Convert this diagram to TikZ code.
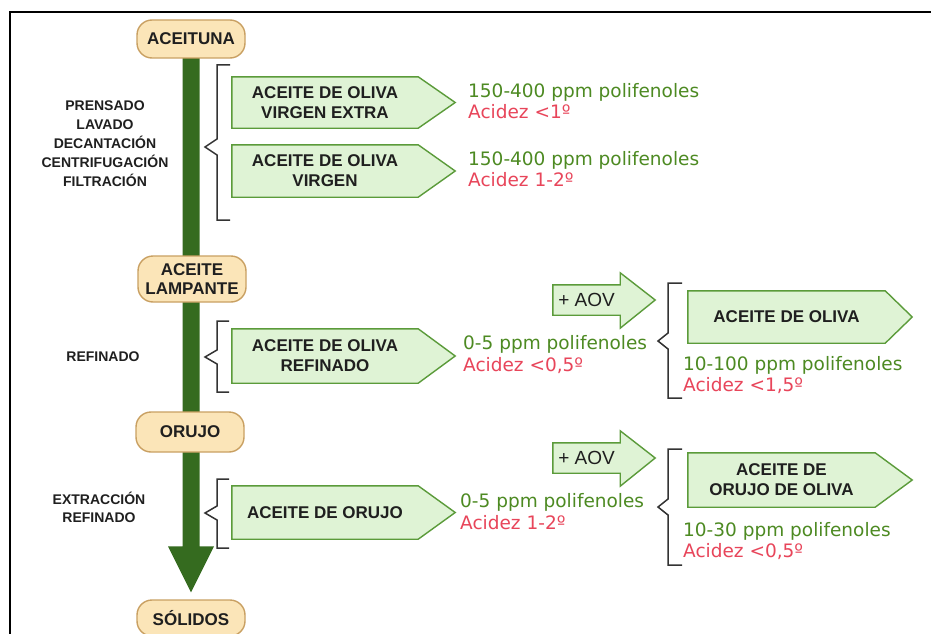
\documentclass[tikz,border=0pt]{standalone}
\usepackage{fontspec}
\setmainfont{Liberation Sans}
\newfontfamily\dvs{DejaVu Sans}
\usetikzlibrary{calc}
\pgfdeclarelayer{bg}
\pgfsetlayers{bg,main}
\definecolor{pillfill}{HTML}{FBE5B8}
\definecolor{pillborder}{HTML}{C9A062}
\definecolor{boxfill}{HTML}{DFF3D5}
\definecolor{boxborder}{HTML}{5B9B3A}
\definecolor{shaft}{HTML}{356B1F}
\definecolor{tgreen}{HTML}{4D8A22}
\definecolor{tred}{HTML}{E8455A}
\definecolor{txt}{HTML}{1F1F1F}
\definecolor{brk}{HTML}{333333}
\tikzset{
  pill/.style={draw=pillborder, fill=pillfill, line width=1.4pt, rounded corners=15pt,
    minimum width=108pt, inner sep=0pt, align=center, text=txt,
    font=\bfseries\fontsize{17}{19}\selectfont},
  boxtxt/.style={inner sep=0pt, align=center, text=txt,
    font=\bfseries\fontsize{17}{20}\selectfont},
  boxshape/.style={draw=boxborder, fill=boxfill, line width=1.4pt, line join=miter},
  proc/.style={inner sep=0pt, align=center, text=txt,
    font=\bfseries\fontsize{14}{19}\selectfont},
  info/.style={inner sep=0pt, anchor=west, align=left,
    font=\dvs\fontsize{18.5}{21.5}\selectfont},
  brace/.style={draw=brk, line width=1.5pt, line join=miter},
  aov/.style={inner sep=0pt, text=txt, font=\fontsize{19}{20}\selectfont,
    minimum width=67pt, minimum height=30pt}
}
\newcommand{\olivebox}[7]{%
  \node[boxtxt, minimum width=#4pt, minimum height=#5pt] (#1) at (#2,#3) {#7};
  \begin{pgfonlayer}{bg}
  \draw[boxshape] (#1.north west) -- (#1.north east) -- ($(#1.east)+(#6,0)$)
    -- (#1.south east) -- (#1.south west) -- cycle;
  \end{pgfonlayer}}
\newcommand{\aovarrow}[3]{%
  \node[aov] (#1) at (#2,#3) {+ AOV};
  \begin{pgfonlayer}{bg}
  \draw[boxshape] (#1.north west) -- (#1.north east) -- ($(#1.north east)+(0,-12)$)
    -- ($(#1.east)+(35,0)$) -- ($(#1.south east)+(0,13)$) -- (#1.south east)
    -- (#1.south west) -- cycle;
  \end{pgfonlayer}}
\begin{document}
\begin{tikzpicture}[x=1pt,y=-1pt]
\useasboundingbox (0,0) rectangle (931,634);
\begin{pgfonlayer}{bg}
\fill[white] (0,0) rectangle (931,634);
\end{pgfonlayer}
% frame
\draw[line width=2.5pt] (10,634) -- (10,12) -- (931,12);

% pills
\node[pill, minimum height=38pt] (p1) at (191,39) {ACEITUNA};
\node[pill, minimum height=46pt] (p2) at (192,279) {ACEITE\\LAMPANTE};
\node[pill, minimum height=40pt] (p3) at (190,432) {ORUJO};
\node[pill, minimum height=36pt] (p4) at (191,618) {SÓLIDOS};

% main shaft
\begin{pgfonlayer}{bg}
\fill[shaft] ($(p1.center)+(-8.5,0)$) -- ($(p1.center)+(8.5,0)$)
  -- ($(p4.north)+(8.5,-53)$) -- ($(p4.north)+(23,-53)$) -- ($(p4.north)+(0,-7)$)
  -- ($(p4.north)+(-23,-53)$) -- ($(p4.north)+(-8.5,-53)$) -- cycle;
\end{pgfonlayer}

% process labels
\node[proc] (l1) at (105,144) {PRENSADO\\LAVADO\\DECANTACIÓN\\CENTRIFUGACIÓN\\FILTRACIÓN};
\node[proc] (l2) at (103,357) {REFINADO};
\node[proc, font=\bfseries\fontsize{14}{18}\selectfont] (l3) at (99,507) {EXTRACCIÓN\\REFINADO};

% braces
\draw[brace] (230,65) -- (217,65) -- (217,139) -- (205,147) -- (217,155) -- (217,220) -- (230,220);
\draw[brace] (229,321) -- (217,321) -- (217,350) -- (205,357) -- (217,364) -- (217,392) -- (229,392);
\draw[brace] (229,479) -- (217,479) -- (217,506) -- (205,513) -- (217,520) -- (217,548) -- (229,548);
\draw[brace] (682,283) -- (668,283) -- (668,333) -- (658,341) -- (668,349) -- (668,398) -- (682,398);
\draw[brace] (682,449) -- (668,449) -- (668,499) -- (658,507) -- (668,515) -- (668,565) -- (682,565);

% olive boxes
\olivebox{b1}{325}{102.5}{186}{51}{37}{ACEITE DE OLIVA\\VIRGEN EXTRA}
\olivebox{b2}{325}{171}{186}{52}{37}{ACEITE DE OLIVA\\VIRGEN}
\olivebox{b3}{325}{356}{186}{54}{37}{ACEITE DE OLIVA\\REFINADO}
\olivebox{b4}{325}{512.5}{186}{53}{37}{ACEITE DE ORUJO}
\olivebox{b5}{786.5}{317}{197}{52}{27}{ACEITE DE OLIVA}
\olivebox{b6}{781.5}{480}{187}{54}{37}{ACEITE DE\\ORUJO DE OLIVA}

% + AOV arrows
\aovarrow{a1}{586.5}{300}
\aovarrow{a2}{586.5}{458}

% info texts
\node[info] (i1) at (468,101) {\textcolor{tgreen}{150-400 ppm polifenoles}\\\textcolor{tred}{Acidez <1º}};
\node[info] (i2) at (468,169) {\textcolor{tgreen}{150-400 ppm polifenoles}\\\textcolor{tred}{Acidez 1-2º}};
\node[info] (i3) at (463,354.5) {\textcolor{tgreen}{0-5 ppm polifenoles}\\\textcolor{tred}{Acidez <0,5º}};
\node[info] (i4) at (683,375) {\textcolor{tgreen}{10-100 ppm polifenoles}\\\textcolor{tred}{Acidez <1,5º}};
\node[info] (i5) at (460,511.5) {\textcolor{tgreen}{0-5 ppm polifenoles}\\\textcolor{tred}{Acidez 1-2º}};
\node[info] (i6) at (683,541) {\textcolor{tgreen}{10-30 ppm polifenoles}\\\textcolor{tred}{Acidez <0,5º}};
\end{tikzpicture}
\end{document}
